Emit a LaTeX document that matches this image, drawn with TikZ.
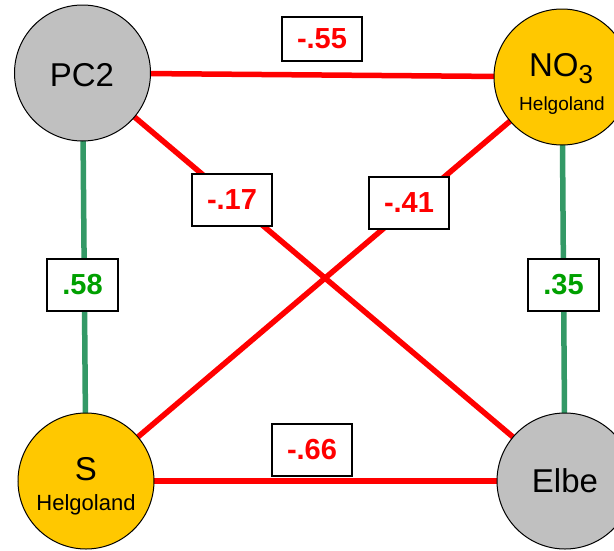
\documentclass[tikz,border=0pt]{standalone}
\usepackage{fontspec}
\setmainfont{Liberation Sans}
\usetikzlibrary{backgrounds}
\definecolor{cgray}{HTML}{C0C0C0}
\definecolor{cyellow}{HTML}{FFC800}
\definecolor{cred}{HTML}{FF0000}
\definecolor{cgreenline}{HTML}{339966}
\definecolor{cgreentext}{HTML}{00A000}
\tikzset{
  bubble/.style={circle, draw=black, line width=1pt, minimum size=136pt, inner sep=0pt},
  graybubble/.style={bubble, fill=cgray},
  yellowbubble/.style={bubble, fill=cyellow},
  redline/.style={draw=cred, line width=5.5pt},
  greenline/.style={draw=cgreenline, line width=5.5pt},
  valbox/.style={draw=black, line width=1.2pt, fill=white, minimum width=80pt, minimum height=52pt, inner sep=0pt, font=\fontsize{29}{29}\selectfont\bfseries},
  redval/.style={valbox, text=cred},
  greenval/.style={valbox, text=cgreentext, minimum width=71pt},
  bigtext/.style={anchor=base, inner sep=0pt, font=\fontsize{33}{33}\selectfont},
  smalltext/.style={anchor=base, inner sep=0pt, font=\fontsize{19}{19}\selectfont}
}
\begin{document}
\begin{tikzpicture}[x=1pt, y=-1pt]
\clip (0,0) rectangle (614,550);
\node[graybubble] (PC2) at (82.5,73) {};
\node[yellowbubble] (NO3) at (562,77) {};
\node[yellowbubble] (S) at (86,481) {};
\node[graybubble] (Elbe) at (565,481) {};
\begin{scope}[on background layer]
\fill[white] (0,0) rectangle (614,550);
\draw[redline] (PC2.center) -- (NO3.center);
\draw[redline] (PC2.center) -- (Elbe.center);
\draw[redline] (S.center) -- (NO3.center);
\draw[redline] (S.center) -- (Elbe.center);
\draw[greenline] (PC2.center) -- (S.center);
\draw[greenline] (NO3.center) -- (Elbe.center);
\end{scope}
\node[bigtext] (tPC2) at (82,86) {PC2};
\node[bigtext] (tElbe) at (565,492) {Elbe};
\node[bigtext] (tNO3) at (561,76) {NO\raisebox{-7pt}{\fontsize{26}{26}\selectfont 3}};
\node[smalltext] (hNO3) at (562,110) {Helgoland};
\node[bigtext] (tS) at (86,480) {S};
\node[smalltext, font=\fontsize{22}{22}\selectfont] (hS) at (86,510) {Helgoland};
\node[redval, minimum height=44pt] (l55) at (322,39) {-.55};
\node[redval] (l17) at (232,200) {-.17};
\node[redval] (l41) at (409,203) {-.41};
\node[redval] (l66) at (312,450) {-.66};
\node[greenval] (l58) at (82.5,285) {.58};
\node[greenval] (l35) at (563.5,285) {.35};
\end{tikzpicture}
\end{document}
